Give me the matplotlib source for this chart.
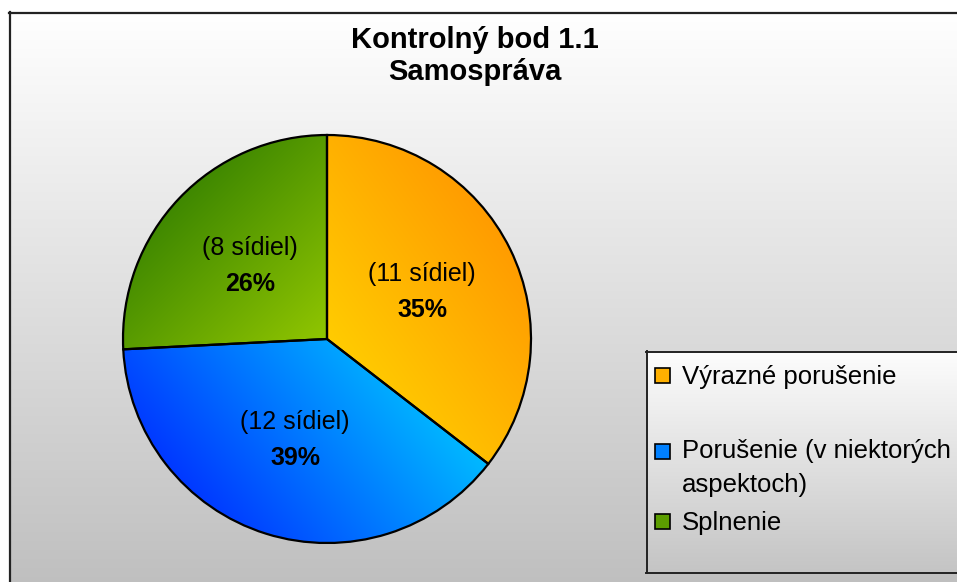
import numpy as np
import matplotlib
matplotlib.use("Agg")
import matplotlib.pyplot as plt
from matplotlib.colors import to_rgb

# ---- data ----
title_lines = ["Kontrolný bod 1.1", "Samospráva"]
categories = ["Výrazné porušenie", "Porušenie (v niektorých aspektoch)", "Splnenie"]
counts = [11, 12, 8]
count_labels = ["(11 sídiel)", "(12 sídiel)", "(8 sídiel)"]

W, H = 957, 582
fig = plt.figure(figsize=(W / 100, H / 100), dpi=100)
plt.rcParams['font.family'] = ['Liberation Sans', 'DejaVu Sans']

# ---- background axes in pixel coordinates ----
bg = fig.add_axes([0, 0, 1, 1])
bg.set_xlim(0, W)
bg.set_ylim(H, 0)
bg.axis('off')
fig.patch.set_facecolor('white')

def vgrad(top, bottom, n=256):
    c0 = np.array(to_rgb(top)); c1 = np.array(to_rgb(bottom))
    t = np.linspace(0, 1, n)[:, None]
    return (c0 + t * (c1 - c0))[:, None, :]

bg.imshow(vgrad('#ffffff', '#bfbfbf'), extent=[9, W + 20, H + 5, 12],
          aspect='auto', interpolation='bilinear', zorder=0)
bg.plot([9.5, 9.5], [12, H + 5], color='#222222', lw=1.6, zorder=2)
bg.plot([9, W + 5], [12.5, 12.5], color='#222222', lw=1.6, zorder=2)

# title
bg.text(475, 48, title_lines[0], ha='center', va='baseline', fontsize=21,
        fontweight='bold', color='black')
bg.text(475, 80, title_lines[1], ha='center', va='baseline', fontsize=21,
        fontweight='bold', color='black')

# ---- pie axes ----
cx, cy, R = 327, 339, 204
pax = fig.add_axes([(cx - R) / W, (H - cy - R) / H, 2 * R / W, 2 * R / H])
wedges, _ = pax.pie(counts, startangle=90, counterclock=False,
                    wedgeprops=dict(edgecolor='black', linewidth=1.6))
pax.set_xlim(-1, 1)
pax.set_ylim(-1, 1)
pax.set_aspect('auto')
pax.axis('off')

grads = [
    ('#ffcc00', '#ff9c00', 35, 0.0, 1.0),
    ('#0038ff', '#00c8ff', 40, -1.0, 0.35),
    ('#99cc00', '#3f8800', 135, -0.1, 1.0),
]
N = 400
xs = np.linspace(-1, 1, N)
X, Y = np.meshgrid(xs, xs[::-1])
for w, (c0, c1, ang, p0, p1) in zip(wedges, grads):
    a = np.deg2rad(ang)
    P = X * np.cos(a) + Y * np.sin(a)
    t = np.clip((P - p0) / (p1 - p0), 0, 1)[..., None]
    img = np.array(to_rgb(c0)) + t * (np.array(to_rgb(c1)) - np.array(to_rgb(c0)))
    im = pax.imshow(img, extent=[-1, 1, -1, 1], interpolation='bilinear', zorder=1)
    im.set_clip_path(w)
    w.set_facecolor('none')
    w.set_zorder(3)

total = sum(counts)
off = 18 / R
for w, cl, n in zip(wedges, count_labels, counts):
    mid = np.deg2rad((w.theta1 + w.theta2) / 2)
    r = 0.52
    x, y = r * np.cos(mid), r * np.sin(mid)
    pax.text(x, y + off, cl, ha='center', va='center', fontsize=18, zorder=5)
    pax.text(x, y - off, f"{round(100 * n / total)}%", ha='center', va='center',
             fontsize=18, fontweight='bold', zorder=5)

# ---- legend (manual, clipped at right edge) ----
lx0, ly0, ly1 = 646, 351, 573
bg.imshow(vgrad('#fdfdfd', '#c4c4c4'), extent=[lx0, W + 20, ly1, ly0],
          aspect='auto', interpolation='bilinear', zorder=3)
bg.plot([lx0 + 0.5, lx0 + 0.5], [ly0, ly1], color='#222222', lw=1.4, zorder=4)
bg.plot([lx0, W + 5], [ly0 + 0.5, ly0 + 0.5], color='#222222', lw=1.4, zorder=4)
bg.plot([lx0, W + 5], [ly1 - 0.5, ly1 - 0.5], color='#222222', lw=1.4, zorder=4)

leg_colors = ['#ffb000', '#0080ff', '#5c9e00']
leg_lines = [[categories[0]], ["Porušenie (v niektorých", "aspektoch)"], [categories[2]]]
marker_y = [375, 451, 521]
base_y = [[384], [458, 492], [530]]
for col, my, lines, bys in zip(leg_colors, marker_y, leg_lines, base_y):
    bg.add_patch(plt.Rectangle((655, my - 7.5), 15, 15, facecolor=col,
                               edgecolor='black', lw=1.2, zorder=5))
    for ln, by in zip(lines, bys):
        bg.text(682, by, ln, ha='left', va='baseline', fontsize=18.5, zorder=5)

fig.savefig('out.png', dpi=100)
